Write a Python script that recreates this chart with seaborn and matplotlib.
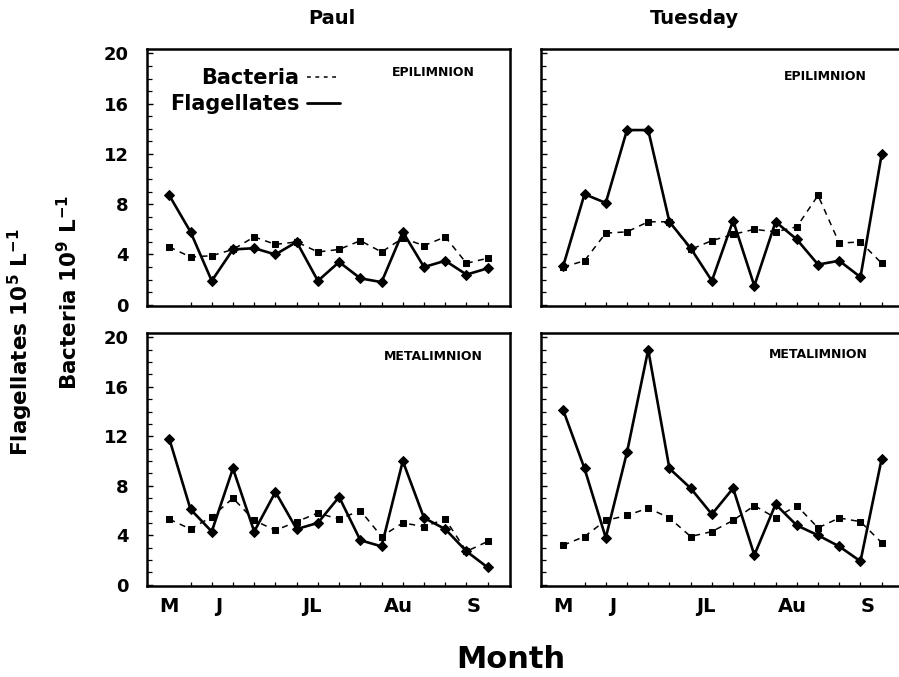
import matplotlib
matplotlib.use("Agg")
import matplotlib.pyplot as plt
from matplotlib.ticker import MultipleLocator, FixedLocator
from matplotlib.lines import Line2D
import numpy as np
import pandas as pd
import seaborn as sns

# ---------------- data ----------------
sample = list(range(16))
month_labels = ["M", "J", "JL", "Au", "S"]
month_pos = [0, 2.35, 6.7, 10.8, 14.35]

paul_epi_flag = [8.7, 5.8, 1.9, 4.4, 4.5, 4.0, 5.0, 1.9, 3.4, 2.1, 1.8, 5.8, 3.0, 3.5, 2.4, 2.9]
paul_epi_bact = [4.6, 3.8, 3.9, 4.4, 5.4, 4.8, 5.0, 4.2, 4.4, 5.1, 4.2, 5.3, 4.7, 5.4, 3.3, 3.7]

tues_epi_flag = [3.1, 8.8, 8.1, 13.9, 13.9, 6.6, 4.5, 1.9, 6.7, 1.5, 6.6, 5.2, 3.2, 3.5, 2.2, 12.0]
tues_epi_bact = [3.0, 3.5, 5.7, 5.8, 6.6, 6.6, 4.4, 5.1, 5.6, 6.0, 5.8, 6.2, 8.7, 4.9, 5.0, 3.3]

paul_meta_flag = [11.8, 6.1, 4.3, 9.4, 4.3, 7.5, 4.5, 5.0, 7.1, 3.6, 3.1, 10.0, 5.4, 4.5, 2.7, 1.4]
paul_meta_bact = [5.3, 4.5, 5.5, 7.0, 5.2, 4.4, 5.1, 5.8, 5.3, 6.0, 3.9, 5.0, 4.7, 5.3, 2.7, 3.5]

tues_meta_flag = [14.1, 9.4, 3.8, 10.7, 19.0, 9.4, 7.8, 5.7, 7.8, 2.4, 6.5, 4.8, 4.0, 3.1, 1.9, 10.2]
tues_meta_bact = [3.2, 3.9, 5.2, 5.6, 6.2, 5.4, 3.9, 4.3, 5.2, 6.4, 5.4, 6.4, 4.6, 5.4, 5.1, 3.4]

lakes = ["Paul", "Tuesday"]
layers = ["EPILIMNION", "METALIMNION"]
y_ticks = [0, 4, 8, 12, 16, 20]

# ---------------- style ----------------
sns.set_style("ticks")
plt.rcParams["font.family"] = ["DejaVu Sans"]
plt.rcParams["font.weight"] = "bold"
plt.rcParams["mathtext.default"] = "regular"
plt.rcParams["text.color"] = "black"
plt.rcParams["xtick.color"] = "black"
plt.rcParams["ytick.color"] = "black"
plt.rcParams["xtick.labelcolor"] = "black"
plt.rcParams["ytick.labelcolor"] = "black"

W, H = 899, 677
fig = plt.figure(figsize=(W / 100, H / 100), dpi=100)


def add_ax(l, t, r, b):
    return fig.add_axes([l / W, 1 - b / H, (r - l) / W, (b - t) / H])


def panel(ax, flag, bact, show_y, show_x, right_spine=True):
    df = pd.DataFrame({"sample": sample, "Flagellates": flag, "Bacteria": bact})
    sns.lineplot(data=df, x="sample", y="Bacteria", ax=ax, color="black",
                 linestyle=(0, (4, 3.5)), linewidth=1.1, marker="s", markersize=5,
                 markeredgecolor="black", errorbar=None)
    sns.lineplot(data=df, x="sample", y="Flagellates", ax=ax, color="black",
                 linewidth=1.9, marker="D", markersize=5,
                 markeredgecolor="black", errorbar=None)
    ax.set_xlim(-1.05, 16.05)
    ax.set_ylim(-0.1, 20.35)
    ax.set_xlabel("")
    ax.set_ylabel("")
    for s in ax.spines.values():
        s.set_visible(True)
        s.set_linewidth(1.8)
        s.set_color("black")
    ax.spines["right"].set_visible(right_spine)
    ax.yaxis.set_major_locator(FixedLocator(y_ticks))
    ax.yaxis.set_minor_locator(MultipleLocator(1))
    ax.tick_params(axis="y", which="major", direction="in", length=4.5, width=1,
                   labelsize=13, pad=13, labelleft=show_y)
    ax.tick_params(axis="y", which="minor", direction="in", length=3.5, width=0.9)
    ax.xaxis.set_major_locator(FixedLocator(month_pos))
    ax.xaxis.set_minor_locator(FixedLocator(sample))
    ax.set_xticklabels(month_labels)
    ax.tick_params(axis="x", which="major", length=0, labelsize=14, pad=8,
                   labelbottom=show_x)
    ax.tick_params(axis="x", which="minor", direction="in", length=3, width=0.9)
    for lab in ax.get_xticklabels() + ax.get_yticklabels():
        lab.set_fontweight("bold")


ax_pe = add_ax(147, 49, 510, 306)
ax_te = add_ax(541, 49, 904, 306)
ax_pm = add_ax(147, 333, 510, 586)
ax_tm = add_ax(541, 333, 904, 586)

panel(ax_pe, paul_epi_flag, paul_epi_bact, True, False)
panel(ax_te, tues_epi_flag, tues_epi_bact, False, False, right_spine=False)
panel(ax_pm, paul_meta_flag, paul_meta_bact, True, True)
panel(ax_tm, tues_meta_flag, tues_meta_bact, False, True, right_spine=False)

# legend (text first, line after)
handles = [Line2D([], [], color="black", linestyle=(0, (2.5, 3)), linewidth=1.1),
           Line2D([], [], color="black", linewidth=2.0)]
ax_pe.legend(handles, ["Bacteria", "Flagellates"], markerfirst=False, frameon=False,
             loc="upper left", bbox_to_anchor=(170 / W, 1 - 68 / H),
             bbox_transform=fig.transFigure, borderaxespad=0, borderpad=0,
             handlelength=1.6, handletextpad=0.35, labelspacing=0.3,
             prop={"size": 15, "weight": "bold"})


def ftext(x, y, s, **kw):
    fig.text(x / W, 1 - y / H, s, ha="center", va="center", fontweight="bold",
             color="black", **kw)


ftext(433, 72, layers[0], fontsize=9)
ftext(825, 76, layers[0], fontsize=9)
ftext(433, 357, layers[1], fontsize=9)
ftext(818, 355, layers[1], fontsize=9)

ftext(332, 18, lakes[0], fontsize=14)
ftext(694, 18, lakes[1], fontsize=14)

ftext(511, 660, "Month", fontsize=22)
ftext(20, 342, r"Flagellates 10$^{5}$ L$^{-1}$", fontsize=15.5, rotation=90)
ftext(69, 292, r"Bacteria 10$^{9}$ L$^{-1}$", fontsize=15.5, rotation=90)

fig.savefig("out.png", dpi=100)
